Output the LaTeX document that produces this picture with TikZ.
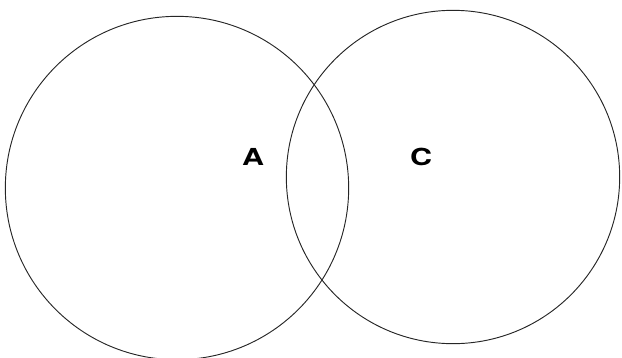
\documentclass[tikz,border=0pt]{standalone}
\usepackage{fontspec}
\setsansfont{TeX Gyre Heros}
\usetikzlibrary{positioning}
\tikzset{
  setring/.style={draw=black!85, circle, line width=0.8pt, inner sep=0pt},
  setname/.style={font=\sffamily\bfseries\fontsize{20}{24}\selectfont, inner sep=0pt, xscale=1.3},
}
\begin{document}
\begin{tikzpicture}[x=0.03cm,y=-0.03cm]
        \useasboundingbox (0,0) rectangle (622,357);
        \node[setring,minimum size=10.30cm] (setA) at (177,188) {};
        \node[setring,minimum size=10.00cm] (setC) at (453,177) {};
        \node[setname] (labA) at (253,157) {A};
        \node[setname] (labC) at (421,157) {C};
\end{tikzpicture}
\end{document}
